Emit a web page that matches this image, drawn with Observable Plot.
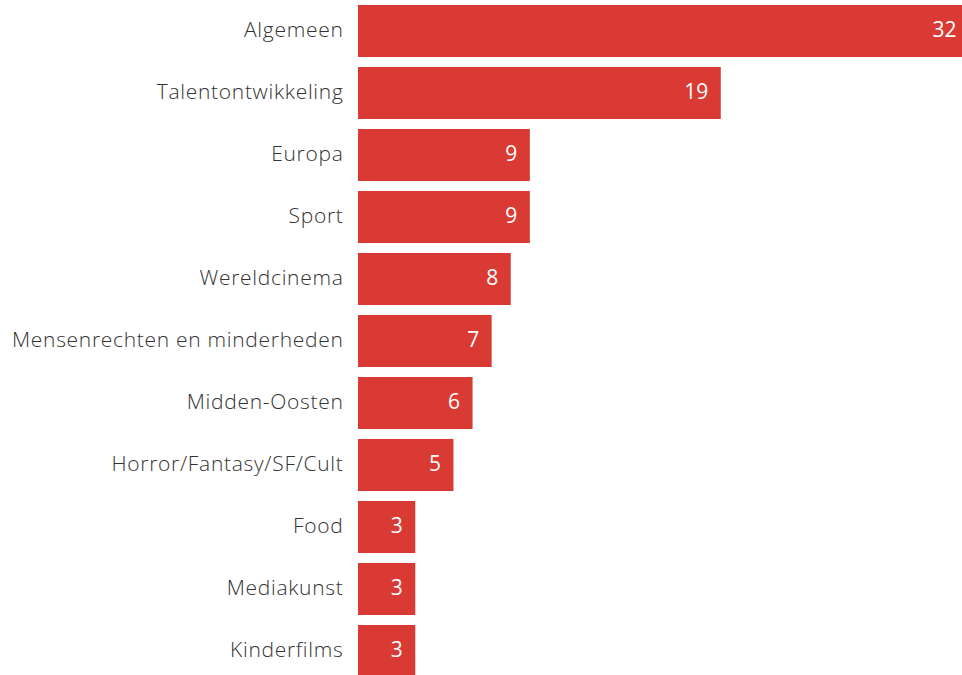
<!DOCTYPE html>
<html><head><meta charset="utf-8">
<script src="https://cdn.jsdelivr.net/npm/d3@7"></script>
<script src="https://cdn.jsdelivr.net/npm/@observablehq/plot@0.6"></script>
<style>
html,body{margin:0;padding:0;background:#fff;overflow:hidden;}
svg{overflow:hidden;}
</style>
</head><body>
<div id="chart"></div>
<script>
const categories = ["Algemeen","Talentontwikkeling","Europa","Sport","Wereldcinema","Mensenrechten en minderheden","Midden-Oosten","Horror/Fantasy/SF/Cult","Food","Mediakunst","Kinderfilms"];
const values = [32,19,9,9,8,7,6,5,3,3,3];
const data = categories.map((c,i)=>({category:c, value:values[i]}));

const chart = Plot.plot({
  width: 962,
  height: 675,
  marginLeft: 358,
  marginRight: 0,
  marginTop: 0,
  marginBottom: 0,
  style: {fontFamily: "'Open Sans', Lato, sans-serif", background: "#fff"},
  x: {domain: [0, 32], range: [358, 969], axis: null},
  y: {domain: categories, range: [0, 682], round: false, paddingInner: 0.161, paddingOuter: 0.0806, label: null},
  marks: [
    Plot.barX(data, {x: "value", y: "category", fill: "#d93a33"}),
    Plot.axisY({tickSize: 0, tickPadding: 15, fontSize: 21, fill: "#333", fontWeight: 300, dy: -1, label: null, style: "letter-spacing:0.7px"}),
    Plot.text(data, {x: "value", y: "category", text: d => String(d.value), textAnchor: "end", dx: -13, dy: -1, fill: "white", fontSize: 21, fontWeight: 400})
  ]
});
chart.querySelectorAll("g[aria-label='y-axis tick label'] text").forEach(t => t.style.letterSpacing = "0.7px");
document.getElementById("chart").appendChild(chart);
</script>
</body></html>
